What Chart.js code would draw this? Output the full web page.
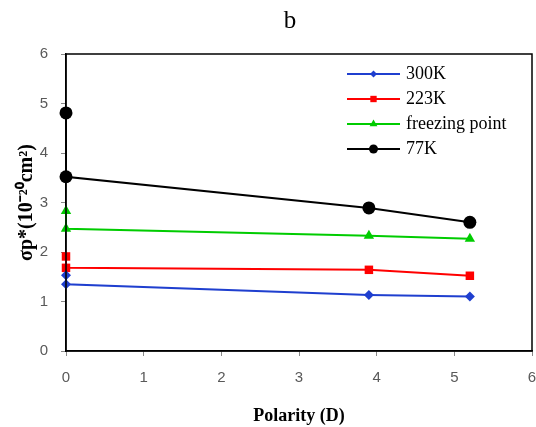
<!DOCTYPE html>
<html>
<head>
<meta charset="utf-8">
<script src="https://cdn.jsdelivr.net/npm/chart.js@4/dist/chart.umd.min.js"></script>
<style>
  html, body { margin: 0; padding: 0; background: #fff; }
  #wrap { width: 536px; height: 427px; position: relative; }
</style>
</head>
<body>
<div id="wrap"><canvas id="polarityChart"></canvas></div>
<script>
// Data
const seriesNames = ['300K', '223K', 'freezing point', '77K'];
const polarity = [0, 0, 3.9, 5.2];
const sigma300K = [1.53, 1.35, 1.13, 1.10];
const sigma223K = [1.91, 1.68, 1.64, 1.52];
const sigmaFreezing = [2.83, 2.47, 2.33, 2.27];
const sigma77K = [4.81, 3.52, 2.89, 2.60];
const xTicks = [0, 1, 2, 3, 4, 5, 6];
const yTicks = [0, 1, 2, 3, 4, 5, 6];

const colors = ['#1f3fcf', '#ff0000', '#00cc00', '#000000'];
const styles = ['rectRot', 'rect', 'triangle', 'circle'];
const radii = [5, 6, 6, 6.5];
const legendRadii = [3.5, 4.5, 4.5, 4.5];

const toPoints = vals => vals.map((v, i) => ({ x: polarity[i], y: v }));

const datasets = [sigma300K, sigma223K, sigmaFreezing, sigma77K].map((vals, i) => ({
    label: seriesNames[i],
    data: toPoints(vals),
    showLine: true,
    clip: false,
    borderColor: colors[i],
    backgroundColor: colors[i],
    borderWidth: 2,
    pointStyle: styles[i],
    pointRadius: radii[i],
    pointBorderWidth: 0,
    pointBackgroundColor: colors[i]
}));

// frame, title "b" and the legend box with line + marker
const extras = {
    id: 'extras',
    afterDraw(chart) {
        const ctx = chart.ctx;
        const a = chart.chartArea;
        ctx.save();
        ctx.strokeStyle = '#000';
        ctx.lineWidth = 1.5;
        ctx.strokeRect(a.left, a.top, a.right - a.left, a.bottom - a.top);

        ctx.fillStyle = '#000';
        ctx.font = '25px "Liberation Serif", serif';
        ctx.textAlign = 'center';
        ctx.textBaseline = 'alphabetic';
        ctx.fillText('b', 290, 28);

        const x0 = a.right - 185;
        const x1 = a.right - 132;
        ctx.font = '18px "Liberation Serif", serif';
        ctx.textAlign = 'left';
        ctx.textBaseline = 'middle';
        seriesNames.forEach((name, i) => {
            const y = a.top + 20 + i * 25;
            ctx.strokeStyle = colors[i];
            ctx.lineWidth = 2;
            ctx.beginPath();
            ctx.moveTo(x0, y);
            ctx.lineTo(x1, y);
            ctx.stroke();
            ctx.fillStyle = colors[i];
            Chart.helpers.drawPoint(ctx, {
                pointStyle: styles[i], radius: legendRadii[i], rotation: 0, borderWidth: 0
            }, (x0 + x1) / 2, y);
            ctx.fillStyle = '#000';
            ctx.fillText(name, x1 + 6, y);
        });
        ctx.restore();
    }
};

const ctx = document.getElementById('polarityChart').getContext('2d');
const polarityChart = new Chart(ctx, {
    type: 'scatter',
    data: { datasets },
    options: {
        responsive: true,
        maintainAspectRatio: false,
        animation: false,
        layout: { autoPadding: false, padding: { top: 54, right: 4, bottom: 0, left: 15 } },
        scales: {
            x: {
                type: 'linear',
                min: xTicks[0],
                max: xTicks[xTicks.length - 1],
                afterBuildTicks: axis => { axis.ticks = xTicks.map(v => ({ value: v })); },
                afterFit: axis => { axis.height = 76; axis.paddingRight = 4; axis.paddingLeft = 0; },
                grid: { drawOnChartArea: false, drawTicks: true, tickLength: 5, color: '#888' },
                border: { color: '#000', width: 1.5 },
                ticks: { color: '#595959', font: { family: '"Liberation Sans", sans-serif', size: 15 }, padding: 13 },
                title: {
                    display: true,
                    text: 'Polarity (D)',
                    color: '#000',
                    font: { family: '"Liberation Serif", serif', size: 18, weight: 'bold' },
                    padding: { top: 18, bottom: 0 }
                }
            },
            y: {
                type: 'linear',
                min: yTicks[0],
                max: yTicks[yTicks.length - 1],
                afterBuildTicks: axis => { axis.ticks = yTicks.map(v => ({ value: v })); },
                afterFit: axis => { axis.width = 51; },
                grid: { drawOnChartArea: false, drawTicks: true, tickLength: 5, color: '#888' },
                border: { color: '#000', width: 1.5 },
                ticks: { color: '#595959', font: { family: '"Liberation Sans", sans-serif', size: 15 }, padding: 13 },
                title: {
                    display: true,
                    text: 'σp*(10⁻²⁰cm²)',
                    color: '#000',
                    font: { family: '"Liberation Serif", serif', size: 20, weight: 'bold' },
                    padding: { top: 0, bottom: 4 }
                }
            }
        },
        plugins: {
            legend: { display: false },
            tooltip: { enabled: false }
        }
    },
    plugins: [extras]
});
</script>
</body>
</html>
